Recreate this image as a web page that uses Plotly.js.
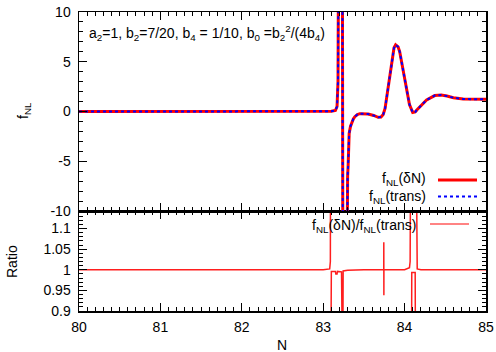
<!DOCTYPE html>
<html>
<head>
<meta charset="utf-8">
<script src="https://cdn.plot.ly/plotly-3.0.1.min.js"></script>
<style>html,body{margin:0;padding:0;background:#fff;}#chart{width:496px;height:352px;}</style>
</head>
<body>
<div id="chart"></div>
<script>
// ---- data ----
var N_top = [80, 81, 82, 83, 83.1, 83.15, 83.17, 83.182, 83.19, 83.235, 83.242, 83.29, 83.294, 83.3, 83.306, 83.319, 83.335, 83.348, 83.37, 83.389, 83.42, 83.45, 83.5, 83.552, 83.62, 83.675, 83.71, 83.737, 83.76, 83.8, 83.84, 83.87, 83.89, 83.92, 83.94, 83.98, 84.02, 84.06, 84.1, 84.13, 84.15, 84.2, 84.27, 84.37, 84.45, 84.52, 84.6, 84.72, 84.85, 85];
var fNL_dN = [0, 0, 0, 0, 0.02, 0.1, 0.5, 3, 20, 20, -20, -20, -9.9, -6.5, -5.5, -2.2, -1.5, -1.19, -0.75, -0.52, -0.3, -0.22, -0.2, -0.25, -0.4, -0.58, -0.55, -0.3, 0.3, 2.5, 5.0, 6.4, 6.7, 6.5, 6.0, 4.3, 2.5, 0.7, -0.1, -0.05, 0.15, 0.6, 1.16, 1.6, 1.65, 1.55, 1.39, 1.25, 1.22, 1.22];
var fNL_trans = [0, 0, 0, 0, 0.02, 0.1, 0.5, 3, 20, 20, -20, -20, -9.9, -6.5, -5.5, -2.2, -1.5, -1.19, -0.75, -0.52, -0.3, -0.22, -0.2, -0.25, -0.4, -0.58, -0.55, -0.3, 0.3, 2.5, 5.0, 6.4, 6.7, 6.5, 6.0, 4.3, 2.5, 0.7, -0.1, -0.05, 0.15, 0.6, 1.16, 1.6, 1.65, 1.55, 1.39, 1.25, 1.22, 1.22];

var N_ratio = [80, 81, 82, 83, 83.08, 83.088, 83.09, null, 83.092, 83.097, 83.1, 83.15, 83.155, 83.17, 83.175, 83.225, 83.23, 83.24, 83.245, 83.3, 83.5, 83.744, 83.7445, 83.7455, 83.746, 84.0, 84.06, 84.068, 84.074, null, 84.084, 84.088, 84.13, 84.135, null, 84.143, 84.148, 84.155, 84.2, 84.5, 85];
var ratio = [1, 1, 1, 1, 1.002, 1.02, 1.3, null, 0.7, 0.99, 0.996, 0.996, 0.99, 0.99, 0.996, 0.995, 0.7, 0.7, 0.997, 0.999, 1, 1, 1.067, 0.938, 1, 1, 1.005, 1.02, 1.3, null, 0.7, 0.9935, 0.9935, 0.7, null, 1.3, 1.01, 1.002, 1, 1, 1];

var xTicks = [80, 81, 82, 83, 84, 85];
var yTopTicks = [-10, -5, 0, 5, 10];
var yTopText = ["-10", "-5", "0", "5", "10"];
var yBotTicks = [0.9, 0.95, 1, 1.05, 1.1];
var yBotText = ["0.9", "0.95", "1", "1.05", "1.1"];

// ---- geometry helpers (pixel -> paper) ----
var W = 496, H = 352, L = 79, R = 10, T = 12, B = 41;
var PW = W - L - R, PH = H - T - B;
function px(x) { return (x - L) / PW; }
function py(y) { return (H - B - y) / PH; }
var split = py(211);

var font = {family: "Liberation Sans, Arial, Helvetica, sans-serif", size: 14, color: "#000"};

var traces = [
  {x: N_top, y: fNL_dN, xaxis: "x2", yaxis: "y2", mode: "lines", line: {color: "#ff0000", width: 3}, name: "fNL(δN)", showlegend: false, hoverinfo: "skip"},
  {x: N_top, y: fNL_trans, xaxis: "x2", yaxis: "y2", mode: "lines", line: {color: "#0000ff", width: 2, dash: "dot"}, name: "fNL(trans)", showlegend: false, hoverinfo: "skip"},
  {x: N_ratio, y: ratio, xaxis: "x", yaxis: "y", mode: "lines", connectgaps: false, line: {color: "rgb(255,30,30)", width: 1.5}, name: "ratio", showlegend: false, hoverinfo: "skip"}
];

var axCommon = {
  showgrid: false, zeroline: false, showline: true, linecolor: "#000", linewidth: 1.5,
  mirror: "allticks", ticks: "inside", tickcolor: "#000", tickwidth: 1, ticklen: 8,
  tickfont: font
};

function ax(extra) { var o = {}; for (var k in axCommon) o[k] = axCommon[k]; for (var k2 in extra) o[k2] = extra[k2]; return o; }

var layout = {
  width: W, height: H,
  margin: {l: L, r: R, t: T, b: B, pad: 0},
  paper_bgcolor: "#fff", plot_bgcolor: "#fff",
  font: font,
  showlegend: false,
  xaxis: ax({domain: [0, 1], anchor: "y", range: [80, 85], tickmode: "array", tickvals: xTicks, ticktext: xTicks.map(String), ticklabelstandoff: 3, minor: {dtick: 0.1, tick0: 80, ticklen: 4, ticks: "inside", tickcolor: "#000"}}),
  yaxis: ax({domain: [0, split], anchor: "x", range: [0.9, 1.1425], tickmode: "array", tickvals: yBotTicks, ticktext: yBotText, ticklabelstandoff: 4, minor: {dtick: 0.01, tick0: 0.9, ticklen: 4, ticks: "inside", tickcolor: "#000"}}),
  xaxis2: ax({domain: [0, 1], anchor: "y2", range: [80, 85], matches: "x", showticklabels: false, tickmode: "array", tickvals: xTicks, minor: {dtick: 0.1, tick0: 80, ticklen: 4, ticks: "inside", tickcolor: "#000"}}),
  yaxis2: ax({domain: [split, 1], anchor: "x2", range: [-10, 10], tickmode: "array", tickvals: yTopTicks, ticktext: yTopText, ticklabelstandoff: 4, minor: {dtick: 1, tick0: 0, ticklen: 4, ticks: "inside", tickcolor: "#000"}}),
  annotations: [
    {xref: "paper", yref: "paper", x: px(87), y: py(33), xanchor: "left", yanchor: "middle", showarrow: false, font: font,
     text: "a<sub>2</sub>=1, b<sub>2</sub>=7/20, b<sub>4</sub> = 1/10, b<sub>0</sub> =b<sub>2</sub><sup>2</sup>/(4b<sub>4</sub>)"},
    {xref: "paper", yref: "paper", x: px(428), y: py(179), xanchor: "right", yanchor: "middle", showarrow: false, font: font, text: "f<sub>NL</sub>(δN)"},
    {xref: "paper", yref: "paper", x: px(428), y: py(197), xanchor: "right", yanchor: "middle", showarrow: false, font: font, text: "f<sub>NL</sub>(trans)"},
    {xref: "paper", yref: "paper", x: px(418), y: py(226), xanchor: "right", yanchor: "middle", showarrow: false, font: font, text: "f<sub>NL</sub>(δN)/f<sub>NL</sub>(trans)"},
    {xref: "paper", yref: "paper", x: px(24), y: py(111), xanchor: "center", yanchor: "middle", textangle: -90, showarrow: false, font: font, text: "f<sub>NL</sub>"},
    {xref: "paper", yref: "paper", x: px(12), y: py(262), xanchor: "center", yanchor: "middle", textangle: -90, showarrow: false, font: font, text: "Ratio"},
    {xref: "paper", yref: "paper", x: px(282), y: py(345), xanchor: "center", yanchor: "middle", showarrow: false, font: font, text: "N"}
  ],
  shapes: [
    {type: "line", xref: "paper", yref: "paper", x0: px(438), x1: px(477), y0: py(180), y1: py(180), line: {color: "#ff0000", width: 3}},
    {type: "line", xref: "paper", yref: "paper", x0: px(438), x1: px(477), y0: py(196.5), y1: py(196.5), line: {color: "#0000ff", width: 2, dash: "dot"}},
    {type: "line", xref: "paper", yref: "paper", x0: px(430), x1: px(469), y0: py(224), y1: py(224), line: {color: "rgb(255,90,90)", width: 1.5}}
  ]
};

Plotly.newPlot("chart", traces, layout, {staticPlot: true, displayModeBar: false});
</script>
</body>
</html>
